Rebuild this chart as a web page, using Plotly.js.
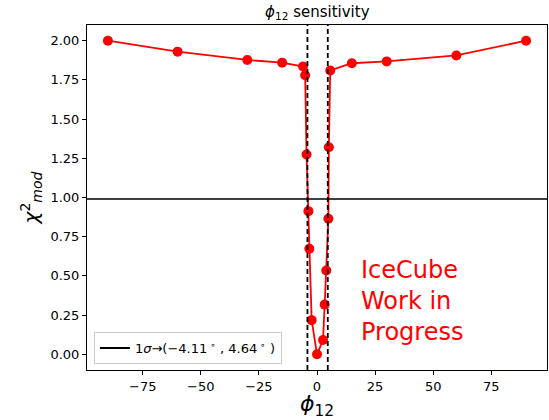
<!DOCTYPE html>
<html><head><meta charset="utf-8">
<script src="https://cdn.plot.ly/plotly-3.0.1.min.js"></script>
<style>body{margin:0;padding:0;background:#fff}#chart{width:549px;height:420px}</style>
</head><body><div id="chart"></div>
<script>
// phi_12 scan values (degrees) and chi^2_mod
const phi12 = [-90, -60, -30, -15, -6, -5.1, -4.5, -3.7, -3.3, -2.3, 0, 2.6, 3.3, 4.0, 4.9, 5.1, 5.7, 15, 30, 60, 90];
const chi2mod = [2.0, 1.93, 1.877, 1.86, 1.835, 1.78, 1.274, 0.913, 0.673, 0.218, 0.0, 0.091, 0.317, 0.535, 0.864, 1.32, 1.81, 1.856, 1.868, 1.906, 2.0];
const sigmaLevel = 0.99;
const sigmaBounds = [-4.11, 4.64];
const xTicks = [-75, -50, -25, 0, 25, 50, 75];
const yTicks = [0, 0.25, 0.5, 0.75, 1.0, 1.25, 1.5, 1.75, 2.0];

const font = {family: 'DejaVu Sans', size: 13, color: '#000'};

const traces = [
  {x: phi12, y: chi2mod, mode: 'lines+markers', type: 'scatter',
   line: {color: '#ff0000', width: 1.8}, marker: {color: '#ff0000', size: 10},
   showlegend: false, cliponaxis: false},
  {x: [null], y: [null], mode: 'lines', type: 'scatter',
   line: {color: '#000', width: 2},
   name: '1<i>σ</i>→(−' + Math.abs(sigmaBounds[0]).toFixed(2) + '<sup> ∘</sup> , ' + sigmaBounds[1].toFixed(2) + '<sup> ∘</sup> )',
   showlegend: true}
];

const shapes = [
  {type: 'line', xref: 'paper', x0: 0, x1: 1, yref: 'y', y0: sigmaLevel, y1: sigmaLevel,
   line: {color: '#000', width: 1.5}, layer: 'above'}
].concat(sigmaBounds.map(b => ({type: 'line', xref: 'x', x0: b, x1: b, yref: 'paper', y0: 0, y1: 1,
   line: {color: '#000', width: 1.8, dash: '5px,3px'}, layer: 'above'})));

const layout = {
  width: 549, height: 420,
  margin: {l: 87, r: 2, t: 25, b: 50},
  paper_bgcolor: '#fff', plot_bgcolor: '#fff',
  font: font,
  title: {text: '<i>ϕ</i><sub>12</sub> sensitivity', font: {family: 'DejaVu Sans', size: 15, color: '#000'},
          x: 0.578, xanchor: 'center', y: 0.972, yanchor: 'middle'},
  xaxis: {range: [-99, 99], tickvals: xTicks, ticktext: xTicks.map(v => v < 0 ? '−' + Math.abs(v) : String(v)),
          showgrid: false, zeroline: false, showline: true, mirror: true, linecolor: '#000', linewidth: 1,
          ticks: 'outside', ticklen: 4, tickcolor: '#000', tickfont: font,
          title: {text: '<i>ϕ</i><sub>12</sub>', font: {family: 'DejaVu Sans', size: 22, color: '#000'}, standoff: 5}},
  yaxis: {range: [-0.1, 2.1], tickvals: yTicks, ticktext: yTicks.map(v => v.toFixed(2)),
          showgrid: false, zeroline: false, showline: true, mirror: true, linecolor: '#000', linewidth: 1,
          ticks: 'outside', ticklen: 4, tickcolor: '#000', tickfont: font,
          title: {text: '<i>χ</i><sup>2</sup><sub><i>mod</i></sub>', font: {family: 'DejaVu Sans', size: 20, color: '#000'}, standoff: 6}},
  shapes: shapes,
  showlegend: true,
  legend: {x: 0.015, y: 0.017, xanchor: 'left', yanchor: 'bottom', bgcolor: 'rgba(255,255,255,0.8)',
           bordercolor: '#cccccc', borderwidth: 1, font: font},
  annotations: [{xref: 'x', yref: 'y', x: 18, y: 0.64, xanchor: 'left', yanchor: 'top', align: 'left',
                 text: 'IceCube<br>Work in<br>Progress', showarrow: false,
                 font: {family: 'DejaVu Sans', size: 24, color: '#ff0000'}}]
};

Plotly.newPlot('chart', traces, layout, {displayModeBar: false, staticPlot: true});
</script></body></html>
